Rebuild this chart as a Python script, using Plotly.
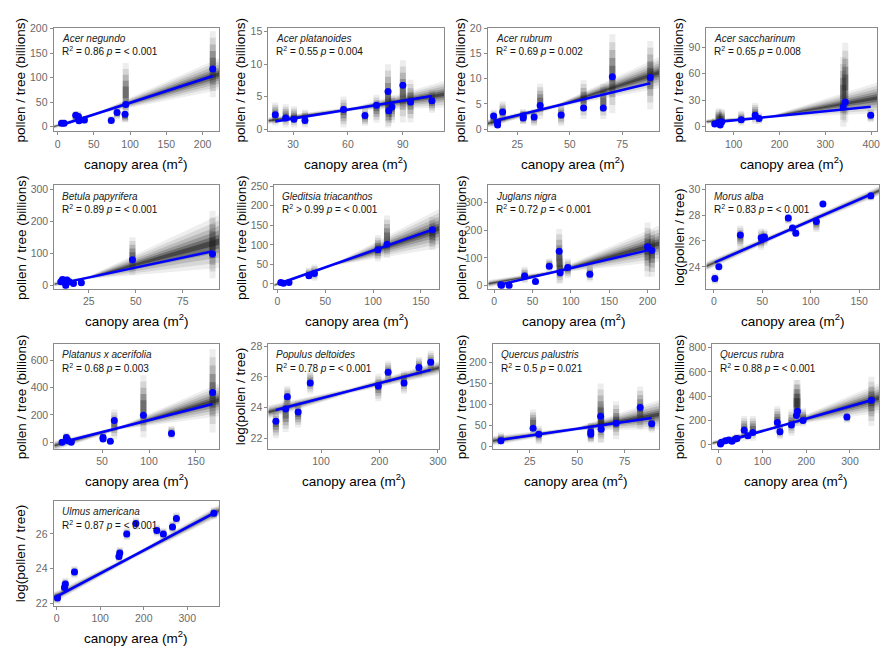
import plotly.graph_objects as go

W, H = 889, 648
FONT = "Liberation Sans, Arial, sans-serif"

# ---------------- data ----------------
# Acer negundo
an_x = [5.5, 9, 25, 28.6, 29.5, 37, 74, 82, 93, 94, 214]
an_y = [7, 7, 23.5, 21, 12, 14, 13, 29, 25.5, 45.6, 118]
an_lo = [-1, -1, 9, 9, 5, 5, 5, 15, 9, 10, 60]
an_hi = [15, 15, 32, 32, 25, 22, 22, 39, 32, 130, 195]
an_fit = [3.6, 103.7]
an_fan_x = [-5.5, 60, 222.7]
an_fan_lo = [-4, 27, 75]
an_fan_hi = [4, 33, 140]

# Acer platanoides
ap_x = [20.3, 26, 30.5, 36.5, 57.6, 69.3, 75.6, 81.9, 82.3, 84, 90, 94.2, 105.9]
ap_y = [2.2, 1.7, 1.5, 1.3, 3.0, 2.1, 3.65, 5.8, 2.8, 3.4, 6.75, 4.16, 4.37]
ap_lo = [0.5, 0.25, 0.25, 0.25, 0.25, 0.5, 1, 0.25, 0.5, 1, 1, 1, 2.5]
ap_hi = [4.1, 3.8, 3.5, 3.0, 5.0, 3.3, 5.3, 10, 5, 5.2, 10.6, 7.6, 6]
ap_fit = [1.17, 5.08]
ap_fan_x = [16.5, 65, 112.5]
ap_fan_lo = [0.75, 2.9, 3.3]
ap_fan_hi = [1.8, 3.5, 7.4]

# Acer rubrum
ar_x = [13.7, 15.6, 15.6, 18, 27.8, 27.8, 33, 35.9, 45.9, 56.6, 66, 70.3, 88.4]
ar_y = [2.6, 1.3, 0.8, 3.4, 2.6, 2.2, 2.4, 4.7, 2.8, 4.2, 4.2, 10.4, 10.26]
ar_lo = [0.3, 0.3, 0.3, 1.3, 1, 1, 0.6, 2, 0.6, 2, 2, 3.2, 3.9]
ar_hi = [3.9, 2.3, 2.3, 5.5, 3.9, 3.9, 3.9, 9, 5.2, 9.7, 9, 18.8, 17.5]
ar_fit = [1.6, 9.1]
ar_fan_x = [10.85, 45, 92.6]
ar_fan_lo = [0.3, 4.35, 8.1]
ar_fan_hi = [1.9, 5.15, 14.3]

# Acer saccharinum
as_x = [58.6, 67, 70.5, 74, 116.5, 146.8, 155.4, 339, 343.5, 399]
as_y = [3, 4.8, 1.9, 5.6, 7.8, 13, 9.3, 22.3, 27.9, 13]
as_lo = [-0.7, 0, 0, 0, 1, 3, 3, 0, 5, 5]
as_hi = [10, 21, 15, 20, 18, 27, 16, 79, 95, 20]
as_fit = [5, 22.7]
as_fan_x = [40.3, 180, 413]
as_fan_lo = [3, 10.3, 15]
as_fan_hi = [8.5, 12.3, 50]

# Betula papyrifera
bp_x = [10.1, 11, 12.2, 12.7, 13.3, 14.5, 16.8, 21, 48.2, 90.8]
bp_y = [12, 19.5, 10, 0, 17.5, 12, 7, 9, 81, 98.7]
bp_lo = [0, 5, 0, -3, 3, 0, 0, 0, 33, 23]
bp_hi = [25, 30, 22, 15, 30, 25, 18, 20, 151, 233]
bp_fit = [7, 107]
bp_fan_x = [6.6, 25, 94.3]
bp_fan_lo = [-3, 21, 55]
bp_fan_hi = [12, 29, 220]

# Gleditsia triacanthos
gt_x = [3.4, 6.2, 12, 32.8, 38.6, 105, 114.5, 162]
gt_y = [4, 1.7, 4, 21, 26.7, 87.5, 101.7, 139]
gt_lo = [-3, -3, -2, 12, 8, 58, 67, 87]
gt_hi = [8, 7, 9, 42, 50, 125, 175, 171]
gt_fit = [2.5, 139]
gt_fan_x = [-3.4, 60, 169]
gt_fan_lo = [-8, 47, 92]
gt_fan_hi = [2, 53, 192]

# Juglans nigra
jn_x = [8.6, 9.5, 19.4, 39.6, 53.8, 71.8, 84.7, 86, 95.9, 124.7, 200, 205.6]
jn_y = [2.4, 0, 0, 34.5, 14.3, 70, 124, 46.4, 65.5, 40.5, 140.5, 127]
jn_lo = [-3, -3, -3, 8, 2, 50, 8, 8, 26, 14, 32, 32]
jn_hi = [8, 8, 8, 68, 26, 98, 205, 120, 98, 74, 228, 200]
jn_fit = [4, 131]
jn_fan_x = [-7.7, 80, 215]
jn_fan_lo = [-7, 44, 86]
jn_fan_hi = [20, 56, 217]

# Morus alba (log scale values)
ma_x = [1, 5.1, 27.3, 48.8, 52.2, 76.8, 81.2, 84.6, 105.8, 112.6, 162.1]
ma_y = [23.1, 24.0, 26.46, 26.25, 26.3, 27.77, 27.0, 26.6, 27.5, 28.86, 29.5]
ma_lo = [22.66, 23.8, 25.4, 25.3, 25.6, 27.3, 26.6, 26.3, 26.7, 28.6, 29.1]
ma_hi = [23.5, 24.3, 27.2, 26.96, 26.9, 28.1, 27.3, 27.0, 28.0, 29.1, 29.7]
ma_fit = [24.35, 29.6]
ma_fan_x = [-7.8, 80, 170.6]
ma_fan_lo = [23.7, 26.72, 29.5]
ma_fan_hi = [24.4, 27.14, 30.25]

# Platanus x acerifolia
pa_x = [7.4, 12, 13.7, 17.2, 51, 51, 58.8, 63, 94, 123.9, 167.7]
pa_y = [0, 36, 12, 0, 36, 24, 7, 160, 197, 65, 365]
pa_lo = [-10, 0, 0, -10, 12, 12, -5, 24, 36, 24, 72]
pa_hi = [15, 72, 50, 30, 72, 60, 20, 240, 490, 120, 683]
pa_fit = [0, 280]
pa_fan_x = [-0.9, 70, 174.6]
pa_fan_lo = [-60, 95, 190]
pa_fan_hi = [12, 120, 430]

# Populus deltoides (log)
pd_x = [22.7, 39.5, 42.3, 60.8, 81.5, 198, 214.8, 242, 267.5, 287.7]
pd_y = [23.1, 23.9, 24.7, 23.7, 25.6, 25.4, 26.3, 25.6, 26.6, 26.95]
pd_lo = [22.0, 22.4, 23.9, 22.7, 24.9, 24.4, 25.6, 24.9, 26.0, 26.3]
pd_hi = [23.8, 24.6, 25.4, 24.4, 26.4, 26.2, 27.05, 26.4, 27.3, 27.7]
pd_fit = [23.83, 26.45]
pd_fan_x = [9.8, 150, 302]
pd_fan_lo = [23.25, 24.92, 26.15]
pd_fan_hi = [24.15, 25.26, 27.03]

# Quercus palustris
qp_x = [9.7, 26.7, 29.7, 57.2, 57.2, 62.4, 62.7, 70.6, 83.3, 89.4]
qp_y = [13.3, 43, 29, 34.5, 29, 72, 40.8, 55, 93, 54]
qp_lo = [2, 25, 5, 9, 9, 9, 9, 17, 41, 33]
qp_hi = [33, 88, 49, 56, 56, 150, 100, 107, 143, 72]
qp_fit = [15.7, 68]
qp_fan_x = [5.3, 50, 93.3]
qp_fan_lo = [1.5, 38, 41]
qp_fan_hi = [25, 46, 111]

# Quercus rubra
qr_x = [3.8, 6, 15, 22.7, 30, 37.8, 41.6, 58, 66.5, 77.8, 133.8, 139.8, 166, 177.6, 180, 192.7, 293, 349]
qr_y = [5, 19, 33, 38, 27, 46, 51, 119, 73, 100, 182, 106, 163, 241, 276, 200, 228, 366]
qr_lo = [-5, 0, 10, 15, 5, 20, 25, 33, 40, 33, 100, 46, 73, 154, 154, 150, 180, 154]
qr_hi = [25, 40, 60, 65, 55, 80, 90, 236, 120, 236, 317, 182, 290, 534, 534, 300, 263, 560]
qr_fit = [14, 366]
qr_fan_x = [-15, 150, 366.6]
qr_fan_lo = [-8, 153, 263]
qr_fan_hi = [32, 173, 507]

# Ulmus americana (log)
ua_x = [2, 18, 20, 41, 143, 145, 161, 182, 230, 245, 266, 275, 361]
ua_y = [22.3, 22.9, 23.1, 23.8, 24.7, 24.9, 26.0, 26.6, 26.2, 26.0, 26.4, 26.9, 27.2]
ua_lo = [21.95, 22.55, 22.75, 23.45, 24.35, 24.55, 25.65, 26.25, 25.85, 25.65, 26.05, 26.55, 26.85]
ua_hi = [22.65, 23.25, 23.45, 24.15, 25.05, 25.25, 26.35, 26.95, 26.55, 26.35, 26.75, 27.25, 27.55]
ua_fit = [22.4, 27.2]
ua_fan_x = [-7, 180, 373]
ua_fan_lo = [22.0, 24.62, 27.0]
ua_fan_hi = [22.62, 24.9, 27.7]

# ---------------- panel definitions ----------------
YT_LIN = "pollen / tree (billions)"
YT_LOG = "log(pollen / tree)"

panels = [
    dict(name="Acer negundo", stat="R<sup>2</sup> = 0.86 <i>p</i> = &lt; 0.001",
         x=an_x, y=an_y, lo=an_lo, hi=an_hi, fit=an_fit, fx=an_fan_x, flo=an_fan_lo, fhi=an_fan_hi,
         box=(46, 14, 213, 119), xr=(-5.5, 222.7), yr=(-9.4, 202),
         xt=[0, 50, 100, 150, 200], yt=[0, 50, 100, 150, 200], ytitle=YT_LIN, ytx=13),
    dict(name="Acer platanoides", stat="R<sup>2</sup> = 0.55 <i>p</i> = 0.004",
         x=ap_x, y=ap_y, lo=ap_lo, hi=ap_hi, fit=ap_fit, fx=ap_fan_x, flo=ap_fan_lo, fhi=ap_fan_hi,
         box=(262.7, 14, 440, 119), xr=(16.5, 112.5), yr=(-0.36, 15.6),
         xt=[30, 60, 90], yt=[0, 5, 10, 15], ytitle=YT_LIN, ytx=235),
    dict(name="Acer rubrum", stat="R<sup>2</sup> = 0.69 <i>p</i> = 0.002",
         x=ar_x, y=ar_y, lo=ar_lo, hi=ar_hi, fit=ar_fit, fx=ar_fan_x, flo=ar_fan_lo, fhi=ar_fan_hi,
         box=(484, 14, 657, 119), xr=(10.85, 92.6), yr=(-0.45, 20.1),
         xt=[25, 50, 75], yt=[0, 5, 10, 15, 20], ytitle=YT_LIN, ytx=457),
    dict(name="Acer saccharinum", stat="R<sup>2</sup> = 0.65 <i>p</i> = 0.008",
         x=as_x, y=as_y, lo=as_lo, hi=as_hi, fit=as_fit, fx=as_fan_x, flo=as_fan_lo, fhi=as_fan_hi,
         box=(704.7, 14, 877, 119), xr=(40.3, 413), yr=(-5.2, 111.9),
         xt=[100, 200, 300, 400], yt=[0, 30, 60, 90], ytitle=YT_LIN, ytx=677),
    dict(name="Betula papyrifera", stat="R<sup>2</sup> = 0.89 <i>p</i> = &lt; 0.001",
         x=bp_x, y=bp_y, lo=bp_lo, hi=bp_hi, fit=bp_fit, fx=bp_fan_x, flo=bp_fan_lo, fhi=bp_fan_hi,
         box=(46.7, 173.7, 213, 278.7), xr=(6.6, 94.3), yr=(-10, 313),
         xt=[25, 50, 75], yt=[0, 100, 200, 300], ytitle=YT_LIN, ytx=13),
    dict(name="Gleditsia triacanthos", stat="R<sup>2</sup> &gt; 0.99 <i>p</i> = &lt; 0.001",
         x=gt_x, y=gt_y, lo=gt_lo, hi=gt_hi, fit=gt_fit, fx=gt_fan_x, flo=gt_fan_lo, fhi=gt_fan_hi,
         box=(268.7, 173.7, 435, 278.7), xr=(-3.4, 169), yr=(-12.5, 252.5),
         xt=[0, 50, 100, 150], yt=[0, 50, 100, 150, 200, 250], ytitle=YT_LIN, ytx=235),
    dict(name="Juglans nigra", stat="R<sup>2</sup> = 0.72 <i>p</i> = &lt; 0.001",
         x=jn_x, y=jn_y, lo=jn_lo, hi=jn_hi, fit=jn_fit, fx=jn_fan_x, flo=jn_fan_lo, fhi=jn_fan_hi,
         box=(484.7, 173.7, 657, 278.7), xr=(-7.7, 215), yr=(-12, 363),
         xt=[0, 50, 100, 150, 200], yt=[0, 100, 200, 300], ytitle=YT_LIN, ytx=457),
    dict(name="Morus alba", stat="R<sup>2</sup> = 0.83 <i>p</i> = &lt; 0.001",
         x=ma_x, y=ma_y, lo=ma_lo, hi=ma_hi, fit=ma_fit, fx=ma_fan_x, flo=ma_fan_lo, fhi=ma_fan_hi,
         box=(704.7, 173.7, 879, 278.7), xr=(-7.8, 170.6), yr=(22.3, 30.3),
         xt=[0, 50, 100, 150], yt=[24, 26, 28, 30], ytitle=YT_LOG, ytx=677),
    dict(name="Platanus x acerifolia", stat="R<sup>2</sup> = 0.68 <i>p</i> = 0.003",
         x=pa_x, y=pa_y, lo=pa_lo, hi=pa_hi, fit=pa_fit, fx=pa_fan_x, flo=pa_fan_lo, fhi=pa_fan_hi,
         box=(46.7, 334.5, 213, 441), xr=(-0.9, 174.6), yr=(-48, 720),
         xt=[50, 100, 150], yt=[0, 200, 400, 600], ytitle=YT_LIN, ytx=13),
    dict(name="Populus deltoides", stat="R<sup>2</sup> = 0.78 <i>p</i> = &lt; 0.001",
         x=pd_x, y=pd_y, lo=pd_lo, hi=pd_hi, fit=pd_fit, fx=pd_fan_x, flo=pd_fan_lo, fhi=pd_fan_hi,
         box=(262.7, 334.5, 435, 441), xr=(9.8, 302), yr=(21.3, 28.15),
         xt=[100, 200, 300], yt=[22, 24, 26, 28], ytitle=YT_LOG, ytx=234),
    dict(name="Quercus palustris", stat="R<sup>2</sup> = 0.5 <i>p</i> = 0.021",
         x=qp_x, y=qp_y, lo=qp_lo, hi=qp_hi, fit=qp_fit, fx=qp_fan_x, flo=qp_fan_lo, fhi=qp_fan_hi,
         box=(489, 334.5, 657, 441), xr=(5.3, 93.3), yr=(-6, 245),
         xt=[25, 50, 75], yt=[0, 50, 100, 150, 200], ytitle=YT_LIN, ytx=457),
    dict(name="Quercus rubra", stat="R<sup>2</sup> = 0.88 <i>p</i> = &lt; 0.001",
         x=qr_x, y=qr_y, lo=qr_lo, hi=qr_hi, fit=qr_fit, fx=qr_fan_x, flo=qr_fan_lo, fhi=qr_fan_hi,
         box=(710.7, 334.5, 879, 441), xr=(-15, 366.6), yr=(-35, 832),
         xt=[0, 100, 200, 300], yt=[0, 200, 400, 600, 800], ytitle=YT_LIN, ytx=677),
    dict(name="Ulmus americana", stat="R<sup>2</sup> = 0.87 <i>p</i> = &lt; 0.001",
         x=ua_x, y=ua_y, lo=ua_lo, hi=ua_hi, fit=ua_fit, fx=ua_fan_x, flo=ua_fan_lo, fhi=ua_fan_hi,
         box=(46, 494, 213, 600), xr=(-7, 373), yr=(21.85, 27.9),
         xt=[0, 100, 200, 300], yt=[22, 24, 26], ytitle=YT_LOG, ytx=13),
]

fig = go.Figure()
layout = dict(width=W, height=H, margin=dict(l=0, r=0, t=0, b=0),
              paper_bgcolor="white", plot_bgcolor="white", showlegend=False,
              font=dict(family=FONT))
annotations = []

FAN_LAYERS = [(1.0, 0.07), (0.8, 0.1), (0.6, 0.14), (0.42, 0.2), (0.26, 0.3), (0.12, 0.45)]
SMEAR_LAYERS = [(1.0, 0.08), (0.8, 0.12), (0.6, 0.17), (0.4, 0.24), (0.2, 0.3)]

for i, p in enumerate(panels):
    n = i + 1
    xa, ya = ("x" if n == 1 else f"x{n}"), ("y" if n == 1 else f"y{n}")
    L, T, R, B = p["box"]
    axcommon = dict(showline=True, mirror=True, linecolor="#8a8a8a", linewidth=1,
                    ticks="outside", ticklen=3, tickcolor="#8a8a8a", tickwidth=1,
                    showgrid=False, zeroline=False,
                    tickfont=dict(size=10.5, color="#6a6a6a", family=FONT))
    layout["xaxis" if n == 1 else f"xaxis{n}"] = dict(
        domain=[L / W, R / W], anchor=ya, range=list(p["xr"]),
        tickvals=p["xt"], **axcommon)
    layout["yaxis" if n == 1 else f"yaxis{n}"] = dict(
        domain=[1 - B / H, 1 - T / H], anchor=xa, range=list(p["yr"]),
        tickvals=p["yt"], **axcommon)

    # uncertainty fan of bootstrapped regression lines (layered for density look)
    fx, flo, fhi = p["fx"], p["flo"], p["fhi"]
    cen = [(a + b) / 2 for a, b in zip(flo, fhi)]
    for frac, alpha in FAN_LAYERS:
        up = [c + frac * (h - c) for c, h in zip(cen, fhi)]
        dn = [c + frac * (l - c) for c, l in zip(cen, flo)]
        fig.add_trace(go.Scatter(x=fx + fx[::-1], y=up + dn[::-1], fill="toself",
                                 fillcolor=f"rgba(20,20,20,{alpha})", line=dict(width=0),
                                 mode="lines", hoverinfo="skip", xaxis=xa, yaxis=ya))

    # posterior smears at each tree
    for frac, alpha in SMEAR_LAYERS:
        sx, sy = [], []
        for xv, l, h in zip(p["x"], p["lo"], p["hi"]):
            c = (l + h) / 2
            sx += [xv, xv, None]
            sy += [c - frac * (c - l), c + frac * (h - c), None]
        fig.add_trace(go.Scatter(x=sx, y=sy, mode="lines",
                                 line=dict(color=f"rgba(30,30,30,{alpha})", width=6),
                                 hoverinfo="skip", xaxis=xa, yaxis=ya))

    # blue fitted line over data range
    fig.add_trace(go.Scatter(x=[min(p["x"]), max(p["x"])], y=p["fit"], mode="lines",
                             line=dict(color="#0000FF", width=2.5), xaxis=xa, yaxis=ya))
    # observed points
    fig.add_trace(go.Scatter(x=p["x"], y=p["y"], mode="markers",
                             marker=dict(color="#0000FF", size=7), xaxis=xa, yaxis=ya))

    # texts inside panel
    annotations.append(dict(x=(L + 6) / W, y=1 - (T + 11) / H, xref="paper", yref="paper",
                            text=f"<i>{p['name']}</i>", showarrow=False, xanchor="left",
                            yanchor="middle", font=dict(size=10, color="#222222", family=FONT)))
    annotations.append(dict(x=(L + 6) / W, y=1 - (T + 24) / H, xref="paper", yref="paper",
                            text=p["stat"], showarrow=False, xanchor="left",
                            yanchor="middle", font=dict(size=10, color="#111111", family=FONT)))
    # axis titles
    annotations.append(dict(x=((L + R) / 2) / W, y=1 - (B + 32) / H, xref="paper", yref="paper",
                            text="canopy area (m<sup>2</sup>)", showarrow=False,
                            xanchor="center", yanchor="middle",
                            font=dict(size=13.5, color="black", family=FONT)))
    annotations.append(dict(x=p["ytx"] / W, y=1 - ((T + B) / 2) / H, xref="paper", yref="paper",
                            text=p["ytitle"], showarrow=False, textangle=-90,
                            xanchor="center", yanchor="middle",
                            font=dict(size=13.5, color="black", family=FONT)))

layout["annotations"] = annotations
fig.update_layout(**layout)
fig.write_html("out.html")
